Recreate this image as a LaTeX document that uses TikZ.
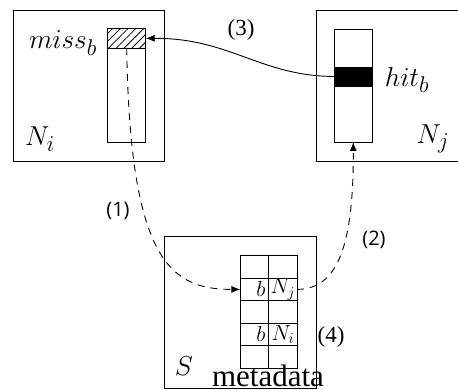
\documentclass[tikz,border=0pt]{standalone}
\usepackage{fontspec}
\newfontfamily\numfont{Open Sans}
\newfontfamily\serfont{Liberation Serif}
\usetikzlibrary{arrows.meta,patterns.meta}
\begin{document}
\begin{tikzpicture}[x=1pt,y=-1pt,
  box/.style={draw, line width=0.9pt},
  col/.style={draw, line width=0.9pt, inner sep=0pt, outer sep=0pt, minimum width=38pt},
  cell/.style={draw, line width=0.9pt, inner sep=0pt, outer sep=0pt, minimum width=28.35pt, minimum height=22.46pt},
  lbl/.style={inner sep=0pt, font=\fontsize{24.88}{30}\selectfont, scale=1.1},
  num/.style={inner sep=0pt, font=\serfont\fontsize{23}{26}\selectfont},
  sans/.style={inner sep=0pt, font=\numfont\fontsize{20}{24}\selectfont},
  celltxt/.style={inner sep=0pt, font=\fontsize{20.74}{24}\selectfont, scale=1.05},
  arr/.style={-{Latex[length=9pt,width=7pt]}, line width=0.9pt},
  dsh/.style={arr, dash pattern=on 7pt off 6pt}
]
\useasboundingbox (0,0) rectangle (458,390);
% N_i
\draw[box] (13,10) rectangle (164,161);
\node[col, minimum height=94pt, anchor=north west] (ci) at (107.7,48) {};
\node[col, minimum height=19.3pt, anchor=north west,
  pattern={Lines[angle=45,distance=5.5pt,line width=0.8pt]}] (ha) at (107.7,28.7) {};
\node[lbl] (miss) at (63,43) {$miss_b$};
\node[lbl] (ni) at (40,139) {$N_i$};
% N_j
\draw[box] (458,10) -- (316,10) -- (316,161) -- (458,161);
\node[col, minimum height=113pt, anchor=north west] (cj) at (334.3,29) {};
\node[col, minimum height=19pt, anchor=north west, fill=black] (hb) at (334.3,67) {};
\node[lbl] (hit) at (407,80) {$hit_b$};
\node[lbl] (nj) at (433,139) {$N_j$};
% S
\draw[box] (164.3,236.7) rectangle (316,388);
\node[cell] (r1l) at (254.5,266.9) {};
\node[cell] (r1r) at (282.85,266.9) {};
\node[cell] (r2l) at (254.5,289.4) {};
\node[cell] (r2r) at (282.85,289.4) {};
\node[cell] (r3l) at (254.5,311.8) {};
\node[cell] (r3r) at (282.85,311.8) {};
\node[cell] (r4l) at (254.5,334.3) {};
\node[cell] (r4r) at (282.85,334.3) {};
\node[cell] (r5l) at (254.5,356.8) {};
\node[cell] (r5r) at (282.85,356.8) {};
\node[celltxt, anchor=east] (b1) at ([xshift=-3pt]r2l.east) {$b$};
\node[celltxt] (n1) at (r2r) {$N_j$};
\node[celltxt, anchor=east] (b2) at ([xshift=-3pt]r4l.east) {$b$};
\node[celltxt] (n2) at (r4r) {$N_i$};
\node[lbl] (s) at (184,366) {$S$};
\node[inner sep=0pt, anchor=base, font=\serfont\fontsize{31}{34}\selectfont] (meta) at (268,386) {metadata};
% labels
\node[num] (l3) at (241,30) {(3)};
\node[sans] (l1) at (118,211) {(1)};
\node[sans] (l2) at (374,240) {(2)};
\node[num] (l4) at (331,337) {(4)};
% connectors
\draw[arr] (hb.west) .. controls (260,76) and (230,38) .. (ha.east);
\draw[dsh] (ha.south) .. controls (130,260) and (170,289.4) .. (r2l.west);
\draw[dsh] (r2r.east) .. controls (340,289.4) and (353.5,240) .. (cj.south);
\end{tikzpicture}
\end{document}
